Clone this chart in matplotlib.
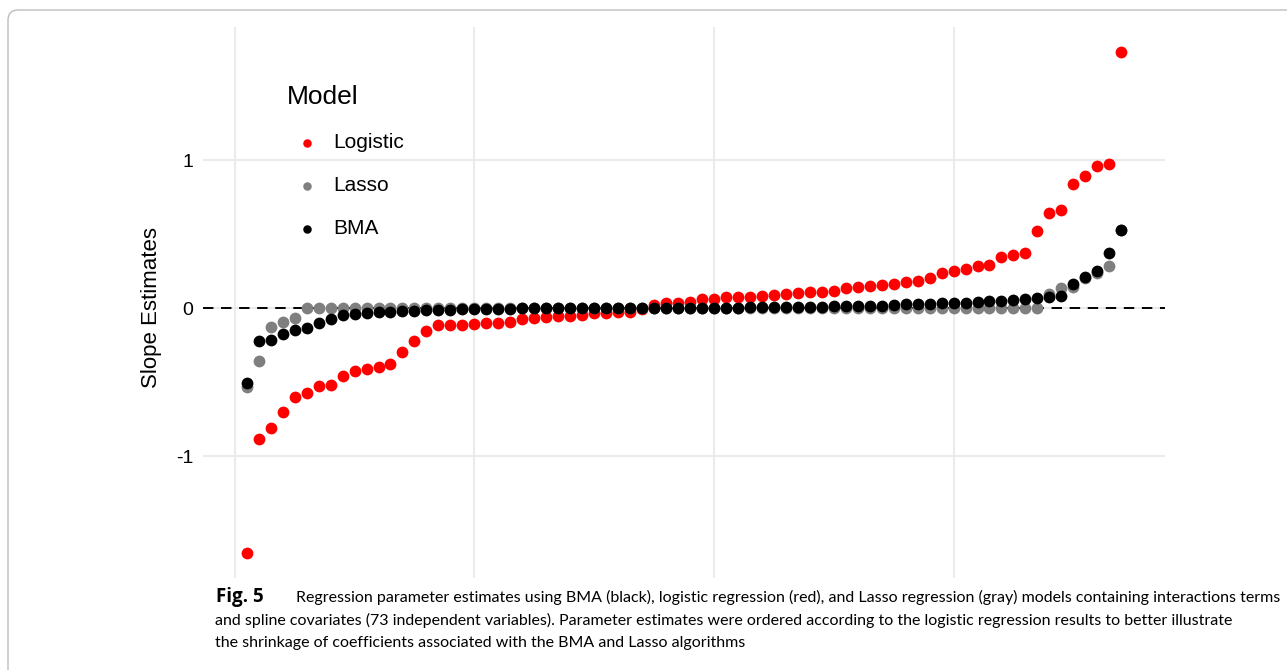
import matplotlib
matplotlib.use("Agg")
import matplotlib.pyplot as plt
import numpy as np
from matplotlib.patches import FancyBboxPatch
from matplotlib.transforms import IdentityTransform

W, H = 1287, 670

# slope estimates, ordered by the logistic regression result
logistic = [
    -1.655, -0.887, -0.809, -0.700, -0.600, -0.572, -0.525, -0.518, -0.459, -0.426,
    -0.410, -0.399, -0.381, -0.295, -0.222, -0.152, -0.115, -0.115, -0.113, -0.108,
    -0.104, -0.099, -0.092, -0.077, -0.065, -0.059, -0.054, -0.053, -0.050, -0.036,
    -0.032, -0.025, -0.025, -0.005, 0.020, 0.034, 0.036, 0.038, 0.058, 0.061,
    0.072, 0.074, 0.077, 0.081, 0.088, 0.095, 0.099, 0.106, 0.110, 0.115,
    0.133, 0.144, 0.149, 0.157, 0.160, 0.178, 0.180, 0.205, 0.234, 0.252,
    0.264, 0.284, 0.290, 0.347, 0.358, 0.370, 0.520, 0.644, 0.662, 0.838,
    0.894, 0.962, 0.971, 1.730,
]
lasso = [
    -0.536, -0.358, -0.131, -0.097, -0.065, 0.0, 0.0, 0.0, 0.0, 0.0,
    0.0, 0.0, 0.0, 0.0, 0.0, 0.0, 0.0, 0.0, 0.0, 0.0,
    0.0, 0.0, 0.0, 0.0, 0.0, 0.0, 0.0, 0.0, 0.0, 0.0,
    0.0, 0.0, 0.0, 0.0, 0.0, 0.0, 0.0, 0.0, 0.0, 0.0,
    0.0, 0.0, 0.0, 0.0, 0.0, 0.0, 0.0, 0.0, 0.0, 0.0,
    0.0, 0.0, 0.0, 0.0, 0.0, 0.0, 0.0, 0.0, 0.0, 0.0,
    0.0, 0.0, 0.0, 0.0, 0.0, 0.0, 0.0, 0.097, 0.133, 0.140,
    0.205, 0.234, 0.284, 0.530,
]
bma = [
    -0.509, -0.221, -0.216, -0.176, -0.149, -0.137, -0.099, -0.077, -0.047, -0.041,
    -0.032, -0.027, -0.025, -0.020, -0.017, -0.015, -0.012, -0.010, -0.008, -0.007,
    -0.006, -0.005, -0.004, -0.003, -0.002, -0.002, -0.001, -0.001, 0.0, 0.0,
    0.0, 0.0, 0.0, 0.0, 0.0, 0.0, 0.001, 0.001, 0.002, 0.002,
    0.002, 0.003, 0.004, 0.004, 0.005, 0.006, 0.007, 0.008, 0.009, 0.011,
    0.013, 0.013, 0.015, 0.016, 0.020, 0.024, 0.027, 0.030, 0.033, 0.033,
    0.037, 0.042, 0.046, 0.050, 0.054, 0.061, 0.066, 0.072, 0.079, 0.162,
    0.210, 0.250, 0.374, 0.530,
]
series = [("Logistic", logistic, "#FF0000"), ("Lasso", lasso, "#7F7F7F"), ("BMA", bma, "#000000")]

caption_bold = "Fig. 5"
caption_lines = [
    "Regression parameter estimates using BMA (black), logistic regression (red), and Lasso regression (gray) models containing interactions terms",
    "and spline covariates (73 independent variables). Parameter estimates were ordered according to the logistic regression results to better illustrate",
    "the shrinkage of coefficients associated with the BMA and Lasso algorithms",
]


def fx(px):
    return px / W


def fy(py):
    return 1 - py / H


plt.rcParams["font.family"] = ["Liberation Sans", "DejaVu Sans"]
plt.rcParams["lines.scale_dashes"] = False

fig = plt.figure(figsize=(W / 100, H / 100), dpi=100)
ax = fig.add_axes([fx(203), fy(578), (1165 - 203) / W, (578 - 27) / H])

x = np.arange(1, len(logistic) + 1)
for z, (name, values, color) in enumerate(series):
    ax.scatter(x, values, s=72, color=color, linewidths=0, label=name, zorder=3 + z)
ax.axhline(0, color="black", lw=1.4, ls=(0, (7.5, 5.5)), zorder=2)

lo, hi = min(logistic), max(logistic)
pad = (hi - lo) * 0.05
ax.set_ylim(lo - pad, hi + pad)
ax.set_xlim(1 - 73 * 0.05, len(x) + 73 * 0.05)
ax.set_xticks([0, 20, 40, 60])
ax.set_yticks([-1, 0, 1])
ax.set_xticklabels([])
ax.set_yticklabels(["-1", "0", "1"])
ax.tick_params(length=0, labelsize=14, pad=7)
ax.grid(color="#EBEBEB", lw=1.5)
ax.set_axisbelow(True)
for spine in ax.spines.values():
    spine.set_visible(False)

fig.text(fx(152), fy(308), "Slope Estimates", rotation=90, ha="center", va="center", fontsize=16)

leg = ax.legend(
    title="Model", loc="upper left", bbox_to_anchor=(fx(276), fy(75)), bbox_transform=fig.transFigure,
    frameon=False, fontsize=15, title_fontsize=19, markerscale=0.72, handlelength=2.0,
    handletextpad=0.25, labelspacing=1.15, borderpad=0, alignment="left",
)

# caption under the plot
cap_font = ["Lato", "DejaVu Sans"]
fig.text(fx(216), fy(597), caption_bold, fontweight="bold", family=["Open Sans", "DejaVu Sans"],
         fontsize=13.5, va="center")
fig.text(fx(296), fy(597), caption_lines[0], family=cap_font, fontsize=11.5, va="center")
fig.text(fx(215), fy(620), caption_lines[1], family=cap_font, fontsize=11.5, va="center")
fig.text(fx(215), fy(643), caption_lines[2], family=cap_font, fontsize=11.5, va="center")

box = FancyBboxPatch((8, H - 700), 1300, 690, boxstyle="round,pad=0,rounding_size=10",
                     transform=IdentityTransform(), fill=False, edgecolor="#BDBDBD", lw=1.0)
fig.add_artist(box)

fig.savefig("out.png", dpi=100)
